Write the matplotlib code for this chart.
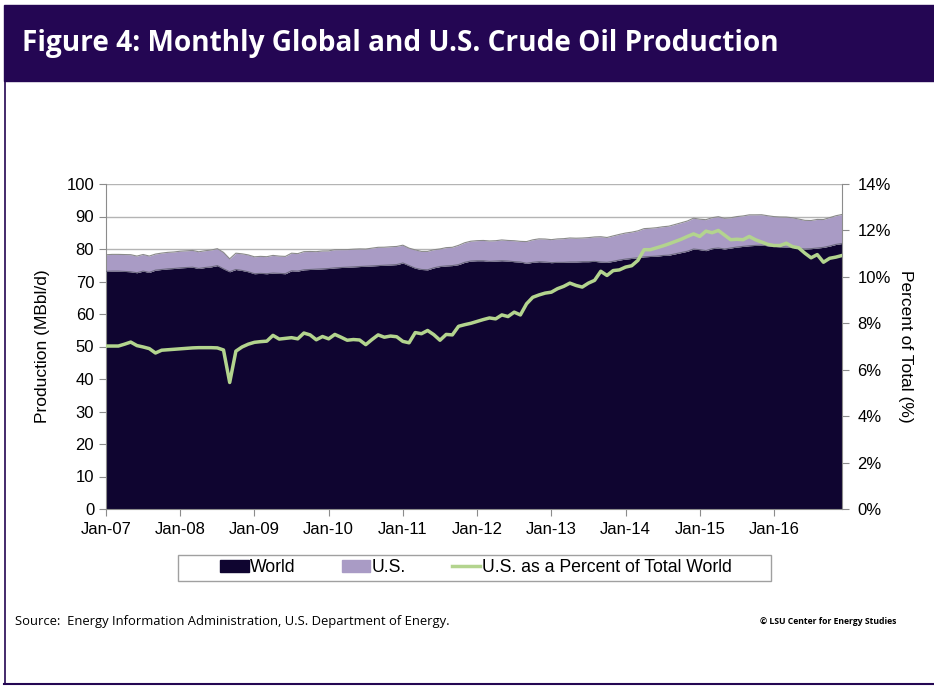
import matplotlib
matplotlib.use("Agg")
import matplotlib.pyplot as plt
from matplotlib.patches import Rectangle, Patch
from matplotlib.lines import Line2D
from matplotlib.ticker import FuncFormatter

# monthly values, Jan-07 .. Dec-16
world = [
    73.1, 73.2, 73.2, 73.1, 73.0, 72.7, 73.2, 72.8, 73.5, 73.7, 73.9, 74.0,
    74.2, 74.3, 74.4, 74.0, 74.3, 74.5, 74.9, 73.9, 73.0, 73.7, 73.4, 73.0,
    72.4, 72.5, 72.4, 72.6, 72.5, 72.4, 73.3, 73.2, 73.6, 73.7, 73.8, 73.9,
    74.0, 74.2, 74.3, 74.4, 74.5, 74.6, 74.7, 74.8, 74.9, 75.0, 75.1, 75.2,
    75.7, 74.9, 74.1, 73.7, 73.6, 74.2, 74.6, 74.8, 74.9, 75.2, 75.9, 76.3,
    76.4, 76.4, 76.2, 76.3, 76.4, 76.3, 76.1, 76.0, 75.6, 75.9, 76.1, 76.0,
    75.8, 75.9, 75.9, 76.0, 76.0, 76.1, 76.1, 76.2, 76.0, 75.9, 76.2, 76.6,
    76.9, 77.1, 77.3, 77.6, 77.7, 77.8, 78.0, 78.1, 78.5, 78.9, 79.3, 80.0,
    79.8, 79.5, 80.1, 80.3, 80.0, 80.3, 80.6, 80.8, 81.0, 81.1, 81.2, 81.0,
    80.8, 80.7, 80.6, 80.5, 80.2, 80.0, 80.1, 80.3, 80.5, 80.9, 81.4, 81.7,
]
us = [
    5.13, 5.14, 5.14, 5.19, 5.25, 5.12, 5.11, 5.03, 4.94, 5.04, 5.07, 5.09,
    5.12, 5.14, 5.16, 5.14, 5.16, 5.18, 5.20, 5.06, 3.98, 5.01, 5.12, 5.18,
    5.20, 5.23, 5.23, 5.43, 5.31, 5.32, 5.41, 5.37, 5.58, 5.53, 5.38, 5.49,
    5.42, 5.58, 5.50, 5.41, 5.44, 5.43, 5.29, 5.46, 5.62, 5.55, 5.59, 5.58,
    5.47, 5.36, 5.63, 5.56, 5.66, 5.57, 5.42, 5.62, 5.62, 5.92, 6.03, 6.10,
    6.17, 6.23, 6.27, 6.25, 6.39, 6.33, 6.45, 6.35, 6.68, 6.92, 7.02, 7.07,
    7.08, 7.20, 7.28, 7.39, 7.32, 7.28, 7.40, 7.51, 7.78, 7.64, 7.83, 7.89,
    8.01, 8.08, 8.28, 8.67, 8.68, 8.75, 8.84, 8.92, 9.04, 9.17, 9.31, 9.48,
    9.37, 9.52, 9.53, 9.64, 9.44, 9.31, 9.37, 9.37, 9.51, 9.41, 9.34, 9.23,
    9.17, 9.16, 9.23, 9.10, 9.02, 8.82, 8.67, 8.80, 8.56, 8.74, 8.83, 8.92,
]
pct_us = [
    7.02, 7.02, 7.02, 7.10, 7.19, 7.04, 6.98, 6.91, 6.72, 6.84, 6.86, 6.88,
    6.90, 6.92, 6.94, 6.95, 6.95, 6.95, 6.94, 6.85, 5.45, 6.80, 6.98, 7.10,
    7.18, 7.21, 7.23, 7.48, 7.32, 7.35, 7.38, 7.33, 7.58, 7.50, 7.29, 7.43,
    7.33, 7.52, 7.40, 7.27, 7.30, 7.28, 7.08, 7.30, 7.50, 7.40, 7.45, 7.42,
    7.22, 7.16, 7.60, 7.55, 7.69, 7.51, 7.27, 7.52, 7.50, 7.87, 7.94, 8.00,
    8.08, 8.16, 8.23, 8.19, 8.36, 8.29, 8.48, 8.36, 8.84, 9.12, 9.22, 9.30,
    9.34, 9.49, 9.59, 9.73, 9.63, 9.56, 9.73, 9.85, 10.24, 10.06, 10.27, 10.30,
    10.42, 10.48, 10.71, 11.17, 11.17, 11.25, 11.33, 11.42, 11.52, 11.62, 11.74, 11.85,
    11.74, 11.97, 11.90, 12.00, 11.80, 11.60, 11.62, 11.60, 11.74, 11.60, 11.50, 11.40,
    11.35, 11.35, 11.45, 11.30, 11.25, 11.02, 10.82, 10.96, 10.63, 10.80, 10.85, 10.92,
]
year_labels = ['Jan-07', 'Jan-08', 'Jan-09', 'Jan-10', 'Jan-11',
               'Jan-12', 'Jan-13', 'Jan-14', 'Jan-15', 'Jan-16']

months = list(range(len(world)))
us_top = [w + u for w, u in zip(world, us)]

plt.rcParams['font.family'] = ['Liberation Sans', 'DejaVu Sans']
navy = '#0f0530'
lav = '#a99bc5'
green = '#b3d48e'
purple = '#240653'
W, H = 934, 686

fig = plt.figure(figsize=(W / 100, H / 100), dpi=100)

# title bar and frame
fig.add_artist(Rectangle((4 / W, 1 - 81 / H), 930 / W, 76 / H,
                         transform=fig.transFigure, color=purple, zorder=0))
fig.add_artist(Line2D([4.5 / W, 4.5 / W], [1 - 81 / H, 1 - 684 / H],
                      transform=fig.transFigure, color=purple, lw=1.2))
fig.add_artist(Line2D([4 / W, 1], [1 - 684 / H, 1 - 684 / H],
                      transform=fig.transFigure, color=purple, lw=1.5))
fig.text(22 / W, 1 - 44 / H, 'Figure 4: Monthly Global and U.S. Crude Oil Production',
         color='white', fontsize=20.2, fontweight='bold', va='center', ha='left',
         family=['Open Sans', 'DejaVu Sans'])

ax = fig.add_axes([106 / W, 1 - 509 / H, 736 / W, 325 / H])
ax.fill_between(months, 0, world, color=navy, lw=0, zorder=2)
ax.fill_between(months, world, us_top, color=lav, lw=0, zorder=2)
ax.plot(months, world, color='#6d6a80', lw=0.8, zorder=3)
ax.plot(months, us_top, color='#8a8a8a', lw=0.8, zorder=3)

ax.set_xlim(0, len(world) - 1)
ax.set_ylim(0, 100)
ax.set_yticks(range(0, 101, 10))
ax.set_xticks(range(0, 120, 12))
ax.set_xticklabels(year_labels)
ax.grid(axis='y', color='#b4b4b4', lw=1, zorder=1)
ax.set_axisbelow(True)
for s in ['top', 'right']:
    ax.spines[s].set_visible(False)
for s in ['left', 'bottom']:
    ax.spines[s].set_color('#8c8c8c')
ax.tick_params(axis='both', colors='#8c8c8c', labelcolor='black',
               labelsize=12, length=5, direction='out')
ax.tick_params(axis='x', pad=4)
ax.set_ylabel('Production (MBbl/d)', fontsize=12.5, labelpad=12)

ax2 = ax.twinx()
ax2.plot(months, pct_us, color=green, lw=2.5, zorder=4)
ax2.set_ylim(0, 14)
ax2.set_yticks(range(0, 15, 2))
ax2.yaxis.set_major_formatter(FuncFormatter(lambda v, p: '%d%%' % v))
for s in ['top', 'left', 'bottom']:
    ax2.spines[s].set_visible(False)
ax2.spines['right'].set_color('#8c8c8c')
ax2.tick_params(axis='y', colors='#8c8c8c', labelcolor='black',
                labelsize=12, length=5, pad=6)
ax2.set_ylabel('Percent of Total (%)', fontsize=12.5, rotation=270, labelpad=16)

# legend box drawn separately (wide inner margin like the original)
fig.add_artist(Rectangle((178 / W, 1 - 581 / H), 593 / W, 26 / H,
                         transform=fig.transFigure, facecolor='white',
                         edgecolor='#a0a0a0', lw=1, zorder=1))
handles = [Patch(facecolor=navy, edgecolor=navy),
           Patch(facecolor=lav, edgecolor=lav),
           Line2D([0], [0], color=green, lw=2.5)]
leg = fig.legend(handles, ['World', 'U.S.', 'U.S. as a Percent of Total World'],
                 loc='center', bbox_to_anchor=(476 / W, 1 - 568 / H), ncol=3,
                 fontsize=12.7, frameon=False,
                 handlelength=1.6, handleheight=0.65, handletextpad=0.1,
                 columnspacing=2.6, borderpad=0.2, borderaxespad=0)
leg.set_zorder(2)

fig.text(15 / W, 1 - 621 / H,
         'Source:  Energy Information Administration, U.S. Department of Energy.',
         fontsize=9.4, va='center', ha='left', family=['Open Sans', 'DejaVu Sans'])
fig.text(760 / W, 1 - 621 / H, '\u00a9 LSU Center for Energy Studies',
         fontsize=6.2, fontweight='bold', va='center', ha='left',
         family=['Open Sans', 'DejaVu Sans'])

fig.savefig('out.png', dpi=100)
